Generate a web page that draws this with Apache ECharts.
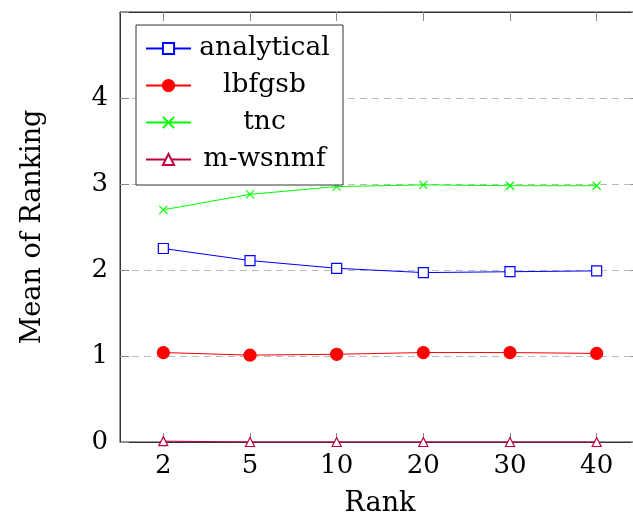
<!DOCTYPE html>
<html lang="en">
<head>
<meta charset="UTF-8">
<title>Mean of Ranking</title>
<script src="https://cdn.jsdelivr.net/npm/echarts@6/dist/echarts.min.js"></script>
<style>
  html, body { margin: 0; padding: 0; background: #fff; }
  #chartmain { width: 633px; height: 522px; }
</style>
</head>
<body>
<div id="chartmain"></div>
<script type="text/javascript">
// data
var ranks = ['2', '5', '10', '20', '30', '40'];
var yTicks = [0, 1, 2, 3, 4];
var analytical = [2.25, 2.11, 2.02, 1.97, 1.98, 1.99];
var lbfgsb = [1.04, 1.01, 1.02, 1.04, 1.04, 1.03];
var tnc = [2.70, 2.88, 2.97, 2.99, 2.98, 2.98];
var mwsnmf = [0.01, 0, 0, 0, 0, 0];

var font = 'DejaVu Serif';
var crossPath = 'path://M0,0L10,10M10,0L0,10';

function mkSeries(name, data, color, symbol, size, fill) {
    return {
        name: name,
        type: 'line',
        data: data,
        symbol: symbol,
        symbolSize: size,
        showAllSymbol: true,
        clip: false,
        lineStyle: { color: color, width: 1 },
        itemStyle: { color: fill, borderColor: color, borderWidth: 1.2 },
        emphasis: { disabled: true }
    };
}

var myChart = echarts.init(document.getElementById('chartmain'), null, { renderer: 'canvas' });

function ticks() {
    return { show: true, alignWithLabel: true, inside: true, length: 9, lineStyle: { color: '#888', width: 1 } };
}
function axLine() {
    return { show: true, onZero: false, lineStyle: { color: '#333', width: 1 } };
}

var option = {
    backgroundColor: '#fff',
    animation: false,
    textStyle: { fontFamily: font },
    grid: {
        show: true, borderColor: '#333', borderWidth: 1, backgroundColor: 'transparent',
        left: 120, top: 12, width: 520, height: 430, containLabel: false, outerBoundsMode: 'none'
    },
    legend: {
        orient: 'vertical',
        left: 136,
        top: 25,
        padding: [10, 10, 12, 9],
        itemWidth: 45,
        itemHeight: 14,
        itemGap: 10,
        backgroundColor: '#fff',
        borderColor: '#333',
        borderWidth: 1,
        borderRadius: 0,
        selectedMode: false,
        data: ['analytical', 'lbfgsb', 'tnc', 'm-wsnmf'],
        formatter: function (n) { return '{t|' + n + '}'; },
        textStyle: {
            fontFamily: font,
            rich: { t: { width: 137, align: 'center', fontSize: 26.5, lineHeight: 27, fontFamily: font, color: '#000' } }
        }
    },
    xAxis: [{
        type: 'category',
        data: ranks,
        position: 'bottom',
        boundaryGap: true,
        name: 'Rank',
        nameLocation: 'middle',
        nameGap: 48,
        nameTextStyle: { fontFamily: font, fontSize: 27, color: '#000' },
        axisLine: axLine(),
        axisTick: ticks(),
        axisLabel: { fontFamily: font, fontSize: 26, color: '#000', margin: 11 },
        splitLine: { show: false }
    }, {
        type: 'category',
        data: ranks,
        gridIndex: 0,
        position: 'top',
        boundaryGap: true,
        axisLine: axLine(),
        axisTick: ticks(),
        axisLabel: { show: false },
        splitLine: { show: false }
    }],
    yAxis: [{
        type: 'value',
        min: 0,
        max: 5,
        interval: 1,
        position: 'left',
        name: 'Mean of Ranking',
        nameLocation: 'middle',
        nameGap: 74,
        nameTextStyle: { fontFamily: font, fontSize: 27, color: '#000' },
        axisLine: axLine(),
        axisTick: ticks(),
        axisLabel: {
            fontFamily: font, fontSize: 26, color: '#000', margin: 12,
            formatter: function (v) { return yTicks.indexOf(v) >= 0 ? String(v) : ''; }
        },
        splitLine: {
            show: true,
            lineStyle: {
                color: ['transparent', '#bbb', '#bbb', '#bbb', '#bbb', 'transparent'],
                type: [7, 5],
                width: 1
            }
        }
    }, {
        type: 'value',
        min: 0,
        max: 5,
        interval: 1,
        position: 'right',
        axisLine: axLine(),
        axisTick: ticks(),
        axisLabel: { show: false },
        splitLine: { show: false }
    }],
    series: [
        mkSeries('analytical', analytical, '#0000ff', 'rect', 10, '#fff'),
        mkSeries('lbfgsb', lbfgsb, '#ff0000', 'circle', 12, '#ff0000'),
        mkSeries('tnc', tnc, '#00ff00', crossPath, 8, '#00ff00'),
        mkSeries('m-wsnmf', mwsnmf, '#bf0040', 'triangle', 9, '#fff'),
        // invisible carrier for the mirrored top/right axes
        {
            name: 'mirror', type: 'line', xAxisIndex: 1, yAxisIndex: 1, data: mwsnmf,
            symbol: 'none', silent: true, lineStyle: { opacity: 0 }, tooltip: { show: false }
        }
    ]
};

myChart.setOption(option);
</script>
</body>
</html>
